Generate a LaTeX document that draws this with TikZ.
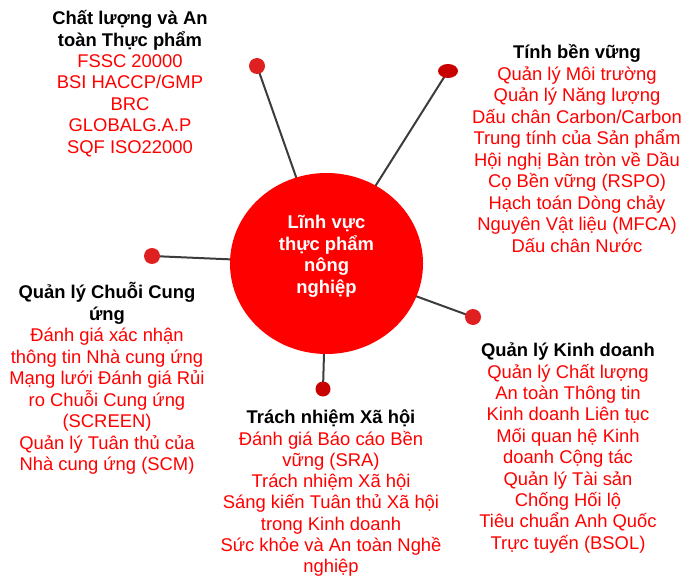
\documentclass[tikz,border=0pt]{standalone}
\usepackage{fontspec}
\setmainfont{Liberation Sans}
\usetikzlibrary{shapes.geometric,backgrounds}
\definecolor{myred}{RGB}{255,0,0}
\definecolor{dotred}{RGB}{222,32,32}
\definecolor{darkdot}{RGB}{200,0,0}
\definecolor{linegray}{RGB}{60,60,60}
\newcommand\blkhead[1]{\textcolor{black}{\textbf{#1}}}
\newcommand\fstrut{\rule{0pt}{20bp}}
\begin{document}
\begin{tikzpicture}[x=1bp,y=-1bp,
  blk/.style={align=center, anchor=north, inner sep=0pt, font=\fontsize{18.4bp}{21.4bp}\selectfont, text=myred},
  dot/.style={circle, fill=dotred, minimum size=16bp, inner sep=0pt},
  link/.style={draw=linegray, line width=2bp}]
\useasboundingbox (0,0) rectangle (684,577);

\node[ellipse, fill=myred, minimum width=193bp, minimum height=181bp, inner sep=0pt] (hub) at (326.5,263.5) {};

\node[dot] (d1) at (257,66) {};
\node[dot, ellipse, minimum width=20bp, minimum height=14bp, fill=darkdot] (d2) at (448,71) {};
\node[dot] (d3) at (152,256) {};
\node[dot] (d4) at (473,317) {};
\node[dot, minimum size=15bp, fill=darkdot] (d5) at (323,389) {};

\begin{scope}[on background layer]
\draw[link] (d1.center) -- (hub.center);
\draw[link] (d2.center) -- (hub.center);
\draw[link] (d3.center) -- (hub.center);
\draw[link] (d4.center) -- (hub.center);
\draw[link] (d5.center) -- (hub.center);
\end{scope}

\node[blk, text=white, font=\fontsize{18.4bp}{21.6bp}\selectfont\bfseries] (hubtext) at (326.5,208.5)
 {\fstrut Lĩnh vực\\thực phẩm\\nông\\nghiệp};

\node[blk] (food) at (130,4.5)
 {\fstrut\blkhead{Chất lượng và An}\\\blkhead{toàn Thực phẩm}\\FSSC 20000\\BSI HACCP/GMP\\BRC\\GLOBALG.A.P\\SQF ISO22000};

\node[blk, font=\fontsize{18.4bp}{21.5bp}\selectfont] (sust) at (577,38.5)
 {\fstrut\blkhead{Tính bền vững}\\Quản lý Môi trường\\Quản lý Năng lượng\\Dấu chân Carbon/Carbon\\Trung tính của Sản phẩm\\Hội nghị Bàn tròn về Dầu\\Cọ Bền vững (RSPO)\\Hạch toán Dòng chảy\\Nguyên Vật liệu (MFCA)\\Dấu chân Nước};

\node[blk, font=\fontsize{18.4bp}{21.5bp}\selectfont] (supply) at (107,278.5)
 {\fstrut\blkhead{Quản lý Chuỗi Cung}\\\blkhead{ứng}\\Đánh giá xác nhận\\thông tin Nhà cung ứng\\Mạng lưới Đánh giá Rủi\\ro Chuỗi Cung ứng\\(SCREEN)\\Quản lý Tuân thủ của\\Nhà cung ứng (SCM)};

\node[blk, font=\fontsize{18.4bp}{21.3bp}\selectfont] (social) at (331,403.5)
 {\fstrut\blkhead{Trách nhiệm Xã hội}\\Đánh giá Báo cáo Bền\\vững (SRA)\\Trách nhiệm Xã hội\\Sáng kiến Tuân thủ Xã hội\\trong Kinh doanh\\Sức khỏe và An toàn Nghề\\nghiệp};

\node[blk] (biz) at (568,336.5)
 {\fstrut\blkhead{Quản lý Kinh doanh}\\Quản lý Chất lượng\\An toàn Thông tin\\Kinh doanh Liên tục\\Mối quan hệ Kinh\\doanh Cộng tác\\Quản lý Tài sản\\Chống Hối lộ\\Tiêu chuẩn Anh Quốc\\Trực tuyến (BSOL)};
\end{tikzpicture}
\end{document}
